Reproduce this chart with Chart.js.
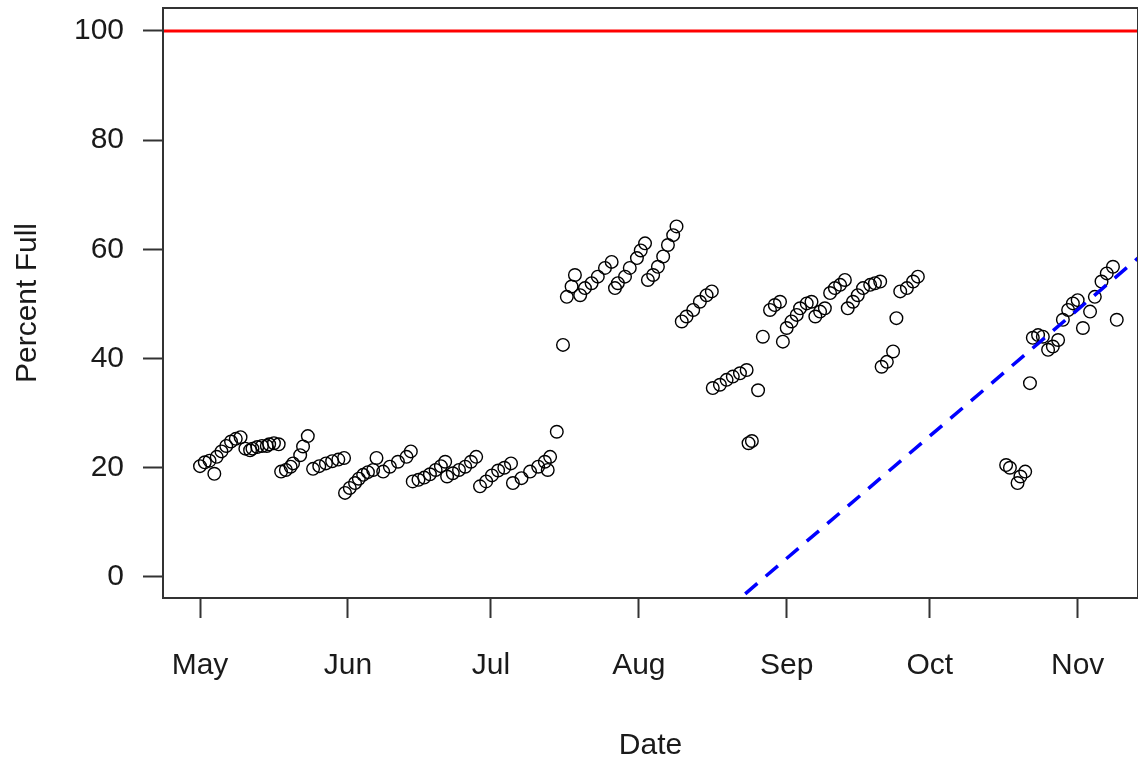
<!DOCTYPE html>
<html>
<head>
<meta charset="utf-8">
<script src="https://cdn.jsdelivr.net/npm/chart.js@4/dist/chart.umd.min.js"></script>
<style>
  html, body { margin: 0; padding: 0; overflow: hidden; background: #ffffff; }
  canvas { display: block; }
</style>
</head>
<body>
<canvas id="fillChart" width="1138" height="760"></canvas>
<script>
// days counted from May 1
const monthTicks = [0, 31, 61, 92, 123, 153, 184];
const monthLabels = ['May', 'Jun', 'Jul', 'Aug', 'Sep', 'Oct', 'Nov'];
const percentTicks = [0, 20, 40, 60, 80, 100];

const sampleDays = [
  0, 1, 2, 3, 3.5, 4.5, 5.5, 6.5, 7.5, 8.5, 9.5, 10.5, 11, 12, 13, 14, 14.5, 15.5, 16.5,
  17, 18, 19, 19.5, 21, 21.6, 22.6,
  23.7, 25, 26.4, 27.7, 29, 30.2,
  30.4, 31.4, 32.5, 33.3, 34.2, 35.2, 36.3, 37, 38.4, 39.8, 41.5, 43.3, 44.2,
  44.6, 45.8, 47, 48.2, 49.4, 50.5, 51.4,
  51.8, 53, 54.3, 55.6, 56.8, 57.9,
  58.7, 60, 61.2, 62.5, 63.8, 65.2,
  65.6, 67.4, 69.2, 70.9, 72.3, 72.9, 73.4, 74.8,
  76.1, 76.9, 77.9, 78.6, 79.7, 80.7, 82.1, 83.4, 84.9, 86.3, 87, 87.6, 89.1, 90.1, 91.6, 92.4, 93.3,
  93.9, 95, 96, 97.1, 98.1, 99.2, 99.9,
  101, 102, 103.4, 104.8, 106.2, 107.3,
  107.5, 109, 110.4, 111.7, 113.2, 114.6,
  115, 115.7, 117, 118, 119.5, 120.5, 121.6, 122.2, 123, 124, 125.1, 125.8, 127.2, 128.2,
  129, 130, 131, 132.1, 133.1, 134.2, 135.2, 135.8, 136.9, 137.9, 139, 140.5, 141.5, 142.6,
  142.9, 144, 145.3, 146, 146.8, 148.2, 149.5, 150.5,
  169, 169.8, 171.4, 172, 173, 174, 174.6, 175.7, 176.7, 177.8, 178.8, 179.9,
  180.9, 182, 183, 184, 185.1, 186.6, 187.6, 189, 190.1, 191.4, 192.2
];
const percentFull = [
  20.3, 21, 21.3, 18.9, 22, 23, 24, 24.8, 25.3, 25.6, 23.5, 23.2, 23.5, 23.8, 24, 24, 24.3, 24.5, 24.3,
  19.3, 19.6, 20.2, 20.8, 22.3, 23.9, 25.8,
  19.8, 20.3, 20.8, 21.2, 21.5, 21.8,
  15.4, 16.3, 17.2, 18, 18.7, 19.2, 19.6, 21.8, 19.3, 20.2, 21.1, 22, 23,
  17.5, 17.8, 18.2, 18.8, 19.6, 20.3, 21.1,
  18.4, 19, 19.6, 20.2, 21.1, 22,
  16.6, 17.5, 18.6, 19.5, 20, 20.8,
  17.2, 18.1, 19.3, 20.2, 21.1, 19.6, 22, 26.6,
  42.5, 51.3, 53.2, 55.3, 51.6, 52.9, 53.8, 55, 56.6, 57.7, 52.9, 53.8, 55, 56.6, 58.4, 59.8, 61.1,
  54.4, 55.3, 56.8, 58.7, 60.8, 62.6, 64.2,
  46.8, 47.7, 48.9, 50.4, 51.6, 52.3,
  34.6, 35.2, 36.1, 36.7, 37.3, 37.9,
  24.5, 24.9, 34.2, 44, 48.9, 49.8, 50.4, 43.1, 45.6, 46.8, 48, 49.2, 50.1, 50.4,
  47.7, 48.6, 49.2, 52, 52.9, 53.5, 54.4, 49.2, 50.4, 51.6, 52.9, 53.5, 53.8, 54.1,
  38.5, 39.4, 41.3, 47.4, 52.3, 52.9, 54.1, 55,
  20.5, 20, 17.2, 18.4, 19.3, 35.5, 43.8, 44.3, 44, 41.6, 42.2, 43.4,
  47.1, 48.9, 50.1, 50.7, 45.6, 48.6, 51.3, 54.1, 55.6, 56.8, 47.1
];

const capacityLevel = 100;
const trendDays = [110, 200];
const trendValues = [-6.3, 60.9];

const font = { family: '"Liberation Sans", Arial, sans-serif', size: 30 };
const inkColor = '#1a1a1a';

// no extra room around the axes: the plot box is placed exactly
function noPadding(scale) {
  scale.paddingLeft = 0;
  scale.paddingRight = 0;
  scale.paddingTop = 0;
  scale.paddingBottom = 0;
}

const framePlugin = {
  id: 'frame',
  afterDraw(chart) {
    const { ctx, chartArea: a } = chart;
    ctx.save();
    ctx.strokeStyle = '#333333';
    ctx.lineWidth = 2;
    ctx.strokeRect(a.left, a.top, a.right - a.left, a.bottom - a.top);
    ctx.restore();
  }
};

const ctx = document.getElementById('fillChart').getContext('2d');

new Chart(ctx, {
  type: 'scatter',
  data: {
    datasets: [
      {
        type: 'line',
        label: 'Capacity',
        data: [{ x: -20, y: capacityLevel }, { x: 210, y: capacityLevel }],
        borderColor: '#ff0000',
        borderWidth: 3,
        pointRadius: 0,
        order: 0
      },
      {
        type: 'line',
        label: 'Trend',
        data: trendDays.map((d, i) => ({ x: d, y: trendValues[i] })),
        borderColor: '#0000ff',
        borderWidth: 3.5,
        borderDash: [16, 11],
        pointRadius: 0,
        order: 0
      },
      {
        label: 'Percent Full',
        data: sampleDays.map((d, i) => ({ x: d, y: percentFull[i] })),
        pointStyle: 'circle',
        pointRadius: 6.3,
        pointBorderWidth: 1.4,
        borderColor: '#000000',
        backgroundColor: 'rgba(0,0,0,0)',
        order: 1
      }
    ]
  },
  options: {
    responsive: false,
    animation: false,
    devicePixelRatio: 1,
    layout: { autoPadding: false, padding: { top: 8, left: 0, right: 0, bottom: 0 } },
    plugins: {
      legend: { display: false },
      tooltip: { enabled: false }
    },
    scales: {
      x: {
        type: 'linear',
        min: -7.76,
        max: 196.65,
        afterBuildTicks: (scale) => { scale.ticks = monthTicks.map(v => ({ value: v })); },
        afterFit: (scale) => {
          scale.height = 162;
          noPadding(scale);
        },
        ticks: {
          autoSkip: false,
          maxRotation: 0,
          padding: 30,
          color: inkColor,
          font: font,
          callback: (value) => monthLabels[monthTicks.indexOf(value)]
        },
        grid: {
          drawOnChartArea: false,
          drawTicks: true,
          tickLength: 20,
          tickWidth: 2,
          tickColor: '#333333'
        },
        border: { display: false },
        title: {
          display: true,
          text: 'Date',
          color: inkColor,
          font: font,
          padding: { top: 0, bottom: -4 }
        }
      },
      y: {
        type: 'linear',
        min: -3.85,
        max: 104.2,
        afterBuildTicks: (scale) => { scale.ticks = percentTicks.map(v => ({ value: v })); },
        afterFit: (scale) => {
          scale.width = 163;
          noPadding(scale);
        },
        ticks: {
          padding: 19,
          color: inkColor,
          font: font
        },
        grid: {
          drawOnChartArea: false,
          drawTicks: true,
          tickLength: 20,
          tickWidth: 2,
          tickColor: '#333333'
        },
        border: { display: false },
        title: {
          display: true,
          text: 'Percent Full',
          color: inkColor,
          font: font,
          padding: { top: 10, bottom: 0 }
        }
      }
    }
  },
  plugins: [framePlugin]
});
</script>
</body>
</html>
